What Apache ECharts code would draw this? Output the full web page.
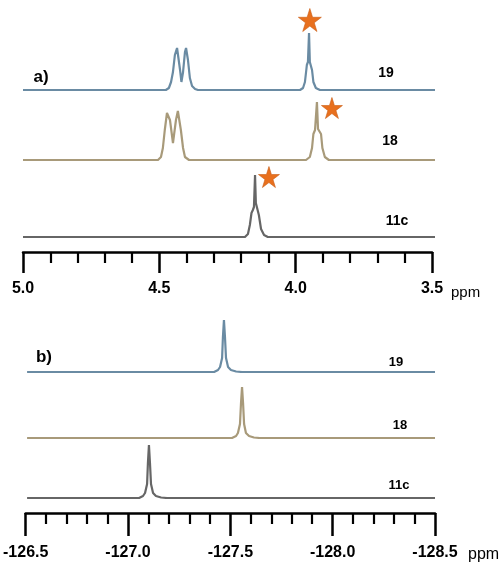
<!DOCTYPE html>
<html>
<head>
<meta charset="utf-8">
<script src="https://cdn.jsdelivr.net/npm/echarts@6/dist/echarts.min.js"></script>
<style>
  html, body { margin: 0; padding: 0; background: #fff; }
  #chart { width: 501px; height: 564px; }
</style>
</head>
<body>
<div id="chart"></div>
<script>
// spectra: [ppm, height above baseline]
const proton19 = [
  [5.0, 0], [4.476, 0], [4.465, 2], [4.457, 8], [4.450, 18], [4.443, 35], [4.435, 42], [4.432, 40],
  [4.424, 20], [4.419, 8], [4.413, 18], [4.406, 38], [4.402, 42], [4.395, 30], [4.388, 12],
  [4.380, 4], [4.369, 1], [4.358, 0], [3.984, 0], [3.973, 2], [3.966, 8], [3.961, 20],
  [3.959, 25], [3.955, 28], [3.951, 57], [3.948, 28], [3.944, 27], [3.940, 20], [3.935, 8],
  [3.926, 2], [3.911, 0], [3.489, 0]
];
const proton18 = [
  [5.0, 0], [4.505, 0], [4.494, 3], [4.487, 12], [4.480, 30], [4.472, 47], [4.468, 49],
  [4.461, 40], [4.450, 17], [4.439, 40], [4.432, 49], [4.428, 47], [4.421, 30], [4.413, 12],
  [4.406, 3], [4.391, 0], [3.962, 0], [3.948, 3], [3.940, 12], [3.935, 26], [3.929, 30],
  [3.926, 31], [3.922, 58], [3.918, 31], [3.913, 30], [3.907, 26], [3.902, 12], [3.893, 3],
  [3.878, 0], [3.489, 0]
];
const proton11c = [
  [5.0, 0], [4.186, 0], [4.175, 3], [4.168, 12], [4.162, 24], [4.157, 27], [4.153, 30],
  [4.149, 62], [4.146, 34], [4.140, 35], [4.135, 22], [4.127, 8], [4.116, 2], [4.102, 0],
  [3.489, 0]
];
const fluorine19 = [
  [-126.515, 0], [-127.425, 0], [-127.444, 2], [-127.454, 5], [-127.464, 14], [-127.468, 35],
  [-127.473, 52], [-127.478, 35], [-127.483, 14], [-127.493, 5], [-127.507, 2],
  [-127.532, 0.5], [-127.561, 0], [-128.5, 0]
];
const fluorine18 = [
  [-126.515, 0], [-127.512, 0], [-127.532, 2], [-127.541, 5], [-127.551, 14], [-127.556, 35],
  [-127.561, 51], [-127.566, 35], [-127.571, 14], [-127.580, 5], [-127.595, 2],
  [-127.619, 0.5], [-127.648, 0], [-128.5, 0]
];
const fluorine11c = [
  [-126.515, 0], [-127.060, 0], [-127.079, 2], [-127.089, 5], [-127.099, 14], [-127.103, 35],
  [-127.108, 53], [-127.113, 35], [-127.118, 14], [-127.128, 5], [-127.142, 2],
  [-127.167, 0.5], [-127.196, 0], [-128.5, 0]
];
// star markers, one per proton trace
const stars19 = [[3.948, 70]];
const stars18 = [[3.867, 52]];
const stars11c = [[4.098, 60]];

const traceNames = ['19', '18', '11c'];
const protonTicks = [3.5, 4.0, 4.5, 5.0];
const fluorineTicks = [-128.5, -128.0, -127.5, -127.0, -126.5];

const colors = ['#6a8ba3', '#a89a7a', '#666666'];
const starColor = '#e8701e';
const starPath = 'path://M50,0 L61.8,36.3 L100,36.3 L69.1,58.8 L80.9,95.1 L50,72.6 L19.1,95.1 L30.9,58.8 L0,36.3 L38.2,36.3 Z';

const chart = echarts.init(document.getElementById('chart'), null, { renderer: 'canvas' });

// baselines (px) of each trace; each trace lives in its own grid
const baseA = [90, 160, 237];
const baseB = [372, 438, 498];

const grids = [];
const xAxes = [];
const yAxes = [];
const series = [];

function addTraceGrid(base, left, width, min, max) {
  grids.push({ left: left, width: width, top: base - 80, height: 80 });
  const i = grids.length - 1;
  xAxes.push({ gridIndex: i, type: 'value', inverse: true, min: min, max: max, show: false });
  yAxes.push({ gridIndex: i, type: 'value', min: 0, max: 80, show: false });
  return i;
}

const protonData = [proton19, proton18, proton11c];
const starData = [stars19, stars18, stars11c];
protonData.forEach((d, k) => {
  const gi = addTraceGrid(baseA[k], 23, 412, 3.489, 5.0);
  series.push({
    type: 'line', xAxisIndex: gi, yAxisIndex: gi, data: d, showSymbol: false,
    lineStyle: { color: colors[k], width: 2.2 }, silent: true
  });
  series.push({
    type: 'scatter', xAxisIndex: gi, yAxisIndex: gi, data: starData[k], symbol: starPath,
    symbolSize: k === 0 ? 23 : 21, clip: false,
    itemStyle: { color: starColor, opacity: 1, borderColor: '#c95c14', borderWidth: 0.6 }
  });
});

const fluorineData = [fluorine19, fluorine18, fluorine11c];
fluorineData.forEach((d, k) => {
  const gi = addTraceGrid(baseB[k], 24, 411, -128.5, -126.5);
  series.push({
    type: 'line', xAxisIndex: gi, yAxisIndex: gi, data: d, showSymbol: false,
    lineStyle: { color: colors[k], width: 2.2 }, silent: true
  });
});

// visible ppm axes
function addScaleAxis(axisY, left, width, ticks, tickLen, margin) {
  grids.push({ left: left, width: width, top: axisY - 1, height: 1 });
  const i = grids.length - 1;
  xAxes.push({
    gridIndex: i, type: 'value', position: 'bottom', inverse: true,
    min: ticks[0], max: ticks[ticks.length - 1], interval: 0.5,
    axisLine: { show: true, lineStyle: { color: '#000', width: 2.5 } },
    axisTick: { show: true, length: tickLen, lineStyle: { color: '#000', width: 2.5 } },
    minorTick: { show: true, splitNumber: 5, length: 11, lineStyle: { color: '#000', width: 2.2 } },
    splitLine: { show: false },
    axisLabel: {
      margin: margin, color: '#000', fontSize: 16, fontWeight: 'bold',
      fontFamily: 'Liberation Sans, Arial, sans-serif',
      showMinLabel: true, showMaxLabel: true,
      formatter: v => v.toFixed(1)
    }
  });
  yAxes.push({ gridIndex: i, type: 'value', show: false });
}
addScaleAxis(252, 23, 409, protonTicks, 21, 29);
addScaleAxis(513, 24, 411, fluorineTicks, 23, 32);

const font = 'Liberation Sans, Arial, sans-serif';
function label(text, x, y, size, weight, align) {
  return {
    type: 'text', x: x, y: y,
    style: { text: text, fill: '#000', font: `${weight} ${size}px ${font}`, align: align || 'center', verticalAlign: 'middle' }
  };
}

chart.setOption({
  animation: false,
  backgroundColor: '#fff',
  grid: grids,
  xAxis: xAxes,
  yAxis: yAxes,
  series: series,
  graphic: [
    label('a)', 41, 77, 17, 'bold'),
    label('b)', 44, 357, 17, 'bold'),
    label(traceNames[0], 386, 73, 14, 'bold'),
    label(traceNames[1], 390, 141, 14, 'bold'),
    label(traceNames[2], 397, 221, 14, 'bold'),
    label(traceNames[0], 396, 362, 13, 'bold'),
    label(traceNames[1], 400, 425, 13, 'bold'),
    label(traceNames[2], 399, 485, 13, 'bold'),
    label('ppm', 451, 293, 15, 'normal', 'left'),
    label('ppm', 468, 555, 16, 'normal', 'left')
  ]
});
</script>
</body>
</html>
